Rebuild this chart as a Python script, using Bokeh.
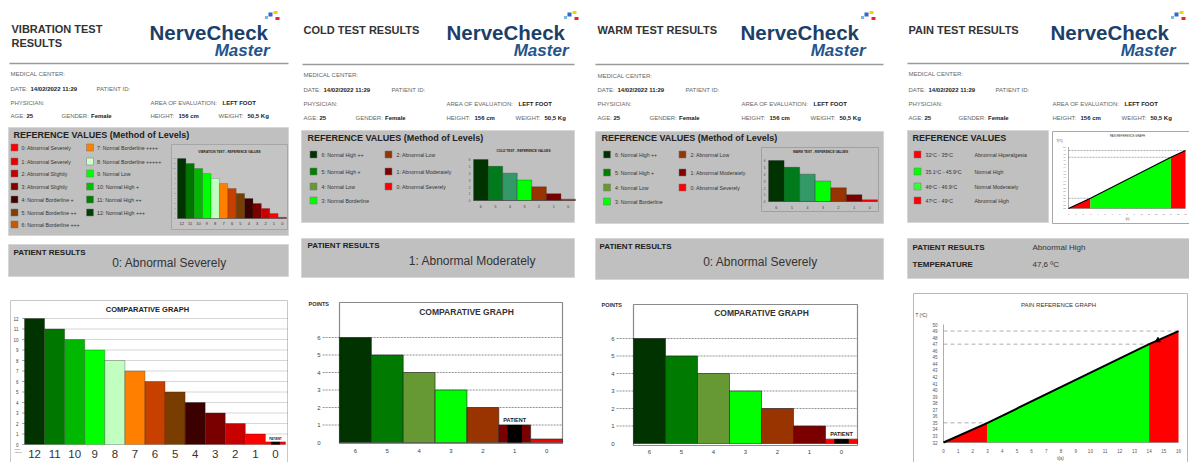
from bokeh.plotting import figure
from bokeh.models import Range1d, ColumnDataSource
from bokeh.core.properties import value
from bokeh.embed import file_html
from bokeh.resources import INLINE

# ---------------------------------------------------------------- data
panel_titles = [["VIBRATION TEST", "RESULTS"], ["COLD TEST RESULTS"], ["WARM TEST RESULTS"], ["PAIN TEST RESULTS"]]
logo_main = "NerveCheck"
logo_sub = "Master"

medical_center = ""
exam_date = "14/02/2022 11:29"
patient_id = ""
physician = ""
area = "LEFT FOOT"
age = "25"
gender = "Female"
height_txt = "156 cm"
weight_txt = "50,5 Kg"

# vibration
vib_levels = ["12", "11", "10", "9", "8", "7", "6", "5", "4", "3", "2", "1", "0"]
vib_points = [12, 11, 10, 9, 8, 7, 6, 5, 4, 3, 2, 1, 0.25]
vib_colors = ["#003300", "#007800", "#00b800", "#00ff00", "#c0ffc0", "#ff8000", "#c84000",
              "#7a3d00", "#3d0000", "#7a0000", "#c80000", "#ff0000", "#ff0000"]
vib_y_ticks = [0, 1, 2, 3, 4, 5, 6, 7, 8, 9, 10, 11, 12]
vib_legend_labels = ["0: Abnormal Severely", "1: Abnormal Severely", "2: Abnormal Slightly",
                     "3: Abnormal Slightly", "4: Normal Borderline +", "5: Normal Borderline ++",
                     "6: Normal Borderline +++", "7: Normal Borderline ++++", "8: Normal Borderline +++++",
                     "9: Normal Low", "10: Normal High +", "11: Normal High ++", "12: Normal High +++"]
vib_legend_colors = ["#ff0000", "#e60000", "#c00000", "#800000", "#400000", "#804000", "#cc5500",
                     "#ff8000", "#ccffcc", "#00ff00", "#00c000", "#008000", "#004000"]
vib_patient = "0"
vib_result = "0: Abnormal Severely"

# cold / warm
tw_levels = ["6", "5", "4", "3", "2", "1", "0"]
tw_y_ticks = [0, 1, 2, 3, 4, 5, 6]
cold_points = [6, 5, 4, 3, 2, 1, 0.2]
warm_points = [6, 5, 4, 3, 2, 1, 0.25]
tw_colors = ["#003300", "#007a00", "#669933", "#00ff00", "#993300", "#7a0000", "#ff0000"]
tw_ref_colors = ["#003300", "#007a1a", "#339966", "#00ff00", "#993300", "#7a0000", "#ff0000"]
tw_legend_labels = ["6: Normal High ++", "5: Normal High +", "4: Normal Low", "3: Normal Borderline",
                    "2: Abnormal Low", "1: Abnormal Moderately", "0: Abnormal Severely"]
tw_legend_colors = ["#003300", "#008000", "#669933", "#00ff00", "#993300", "#800000", "#ff0000"]
cold_patient = "1"
cold_result = "1: Abnormal Moderately"
warm_patient = "0"
warm_result = "0: Abnormal Severely"

# pain
pain_t = [0, 3, 14, 16]
pain_T = [32, 35, 47, 49]
pain_zone_colors = ["#ff0000", "#00ff00", "#ff0000"]
pain_y_ticks = [32, 33, 34, 35, 36, 37, 38, 39, 40, 41, 42, 43, 44, 45, 46, 47, 48, 49, 50]
pain_x_ticks = [0, 1, 2, 3, 4, 5, 6, 7, 8, 9, 10, 11, 12, 13, 14, 15, 16]
pain_patient_t = [14.6]
pain_patient_T = [47.6]
pain_legend_ranges = ["32ºC - 35ºC", "35.1ºC - 45.9ºC", "46ºC - 46.9ºC", "47ºC - 49ºC"]
pain_legend_labels = ["Abnormal Hiperalgesia", "Normal High", "Normal Moderately", "Abnormal High"]
pain_legend_colors = ["#ff0000", "#00ff00", "#33ff33", "#ff0000"]
pain_result = "Abnormal High"
pain_temperature = "47,6 ºC"

# ---------------------------------------------------------------- figure
FX0, FY0, W, H = 0, 0, 1189, 462
p = figure(width=W, height=H, x_range=Range1d(FX0, FX0 + W), y_range=Range1d(FY0 + H, FY0),
           output_backend="svg", toolbar_location=None, min_border=0,
           x_axis_type=None, y_axis_type=None,
           background_fill_color="white", border_fill_color="white")
p.outline_line_color = None

FONT = "Liberation Sans"
texts = {}


def T(x, y, s, size, color="#333333", style="normal", align="left", baseline="middle",
      r=None, xo=0, yo=0, font=FONT):
    key = (size, color, style, align, baseline, r, xo, yo, font)
    d = texts.setdefault(key, dict(x=[], y=[], t=[]))
    d["x"].append(x)
    d["y"].append(y)
    d["t"].append(s)


def box(l, r, t, b, fill, line=None, lw=1):
    p.quad(left=[l], right=[r], top=[t], bottom=[b], fill_color=fill,
           line_color=line, line_width=lw)


def chart_ranges(name, px_x0, px_x1, d_x0, d_x1, px_y0, px_y1, d_y0, d_y1):
    kx = (px_x1 - px_x0) / (d_x1 - d_x0)
    xs = d_x0 - (px_x0 - FX0) / kx
    ky = (px_y0 - px_y1) / (d_y1 - d_y0)
    ys = d_y0 - (FY0 + H - px_y0) / ky
    p.extra_x_ranges = {**p.extra_x_ranges, name: Range1d(xs, xs + W / kx)}
    p.extra_y_ranges = {**p.extra_y_ranges, name: Range1d(ys, ys + H / ky)}


def bars(name, levels, points, colors, patient=None, patient_size="5px",
         line_color="#222222", lw=0.4):
    xs = [i + 0.5 for i in range(len(levels))]
    p.vbar(x=xs, top=points, bottom=0, width=1, fill_color=colors, line_color=line_color,
           line_width=lw, x_range_name=name, y_range_name=name)
    if patient is not None:
        i = levels.index(patient)
        p.vbar(x=[xs[i]], top=[points[i]], bottom=0, width=0.45, fill_color="black",
               line_color=None, x_range_name=name, y_range_name=name)
        T(xs[i], points[i], "PATIENT", patient_size, "#222222", "bold", "center", "bottom", r=name, yo=-2)
    return xs


# ---------------------------------------------------------------- panel headers
panels = [
    dict(title=[(11, 28), (11, 42)], logo=(149, 269), rule=(9, 288, 63),
         info=dict(a=10, b=96, c=150, g=61, w=218), iy=[73, 88, 102, 115],
         ref_box=(8, 288, 127, 235), ref_title=(13, 134), ref_txt="REFERENCE VALUES (Method of Levels)",
         pbox=(8, 288, 244, 276), plabel=(13, 252)),
    dict(title=[(303, 29)], logo=(446, 568), rule=(302, 574, 64),
         info=dict(a=303, b=391, c=446, g=355, w=515), iy=[74, 89, 103, 117],
         ref_box=(301, 574, 130, 222), ref_title=(307, 137), ref_txt="REFERENCE VALUES (Method of Levels)",
         pbox=(301, 574, 238, 277), plabel=(307, 245)),
    dict(title=[(597, 29)], logo=(740, 865), rule=(595, 883, 64),
         info=dict(a=597, b=685, c=741, g=649, w=810), iy=[75, 89, 103, 117],
         ref_box=(595, 883, 131, 223), ref_title=(601, 137), ref_txt="REFERENCE VALUES (Method of Levels)",
         pbox=(595, 883, 238, 279), plabel=(599, 246)),
    dict(title=[(908, 29)], logo=(1050, 1175), rule=(907, 1189, 63),
         info=dict(a=908, b=995, c=1052, g=958, w=1121), iy=[73, 89, 103, 117],
         ref_box=(907, 1048, 130, 222), ref_title=(912, 137), ref_txt="REFERENCE VALUES",
         pbox=(907, 1189, 238, 278), plabel=(912, 247)),
]

GRAYBOX = "#c0c0c0"
for k, pn in enumerate(panels):
    for (x, y), s in zip(pn["title"], panel_titles[k]):
        T(x, y, s, "11px", "#333333", "bold")
    ll, lr = pn["logo"]
    T(ll, 32, logo_main, "20.5px", "#1c3f6a", "bold")
    T(lr, 50, logo_sub, "17px", "#24548a", "bold italic", "right")
    # small coloured marks of the logo
    p.rect(x=[lr - 3, lr + 1, lr + 6, lr + 8], y=[17, 14, 12, 18], width=[3, 4, 4, 4],
           height=[3, 4, 3, 3], fill_color=["#7fb3e6", "#3366cc", "#ffcc00", "#ee2222"], line_color=None)
    x0, x1, ry = pn["rule"]
    p.segment(x0=[x0], x1=[x1], y0=[ry], y1=[ry], line_color="#9a9a9a", line_width=1.6)
    inf = pn["info"]
    iy = pn["iy"]
    LS = "6px"
    T(inf["a"], iy[0], "MEDICAL CENTER:", LS, "#666666")
    T(inf["a"] + 59, iy[0], medical_center, LS, "#222222", "bold")
    T(inf["a"], iy[1], "DATE:", LS, "#666666")
    T(inf["a"] + 20, iy[1], exam_date, LS, "#222222", "bold")
    T(inf["b"], iy[1], "PATIENT ID:", LS, "#666666")
    T(inf["b"] + 37, iy[1], patient_id, LS, "#222222", "bold")
    T(inf["a"], iy[2], "PHYSICIAN:", LS, "#666666")
    T(inf["a"] + 37, iy[2], physician, LS, "#222222", "bold")
    T(inf["c"], iy[2], "AREA OF EVALUATION:", LS, "#666666")
    T(inf["c"] + 72, iy[2], area, LS, "#222222", "bold")
    T(inf["a"], iy[3], "AGE:", LS, "#666666")
    T(inf["a"] + 16, iy[3], age, LS, "#222222", "bold")
    T(inf["g"], iy[3], "GENDER:", LS, "#666666")
    T(inf["g"] + 29.5, iy[3], gender, LS, "#222222", "bold")
    T(inf["c"], iy[3], "HEIGHT:", LS, "#666666")
    T(inf["c"] + 28, iy[3], height_txt, LS, "#222222", "bold")
    T(inf["w"], iy[3], "WEIGHT:", LS, "#666666")
    T(inf["w"] + 29, iy[3], weight_txt, LS, "#222222", "bold")
    l, r, t, b = pn["ref_box"]
    box(l, r, t, b, GRAYBOX, "#d6d6d6")
    T(pn["ref_title"][0], pn["ref_title"][1], pn["ref_txt"], "9px", "#222222", "bold")
    l, r, t, b = pn["pbox"]
    box(l, r, t, b, GRAYBOX, "#d6d6d6")
    T(pn["plabel"][0], pn["plabel"][1], "PATIENT RESULTS", "8px", "#222222", "bold")


def legend(sq_x, rows, labels, colors, text_dx=7, size="5.2px"):
    p.rect(x=[sq_x] * len(rows), y=rows, width=7, height=7, fill_color=colors,
           line_color="#777777", line_width=0.5)
    for y, s in zip(rows, labels):
        T(sq_x + text_dx, y, s, size, "#333333")


# ---------------------------------------------------------------- vibration panel
legend(14, [147, 161, 173, 186, 199, 212, 224], vib_legend_labels[:7], vib_legend_colors[:7])
legend(89.5, [147, 161, 173, 186, 199, 212], vib_legend_labels[7:], vib_legend_colors[7:])

# mini reference chart
box(171, 287, 144, 229, "#c4c4c4", "#a6a6a6")
T(229, 151, "VIBRATION TEST - REFERENCE VALUES", "3.2px", "#222222", "bold", "center")
chart_ranges("vmini", 177, 286, 0, 13, 218, 158, 0, 12)
vx = bars("vmini", vib_levels, vib_points, vib_colors, lw=0.2)
p.segment(x0=[0], x1=[13], y0=[0], y1=[0], line_color="#555555", line_width=0.6,
          x_range_name="vmini", y_range_name="vmini")
for x, s in zip(vx, vib_levels):
    T(x, 0, s, "4px", "#333333", "normal", "center", "top", r="vmini", yo=3)
for v in vib_y_ticks:
    T(0, v, str(v), "2px", "#666666", "normal", "right", "middle", r="vmini", xo=-2)

T(169, 262, vib_result, "12px", "#333333", "normal", "center")

# comparative graph
box(10, 287, 300, 480, "white", "#c8c8c8")
T(148, 309, "COMPARATIVE  GRAPH", "7.5px", "#222222", "bold", "center")
chart_ranges("vbig", 24, 285, 0, 13, 444, 318, 0, 12)
p.segment(x0=[0] * 12, x1=[13.1] * 12, y0=vib_y_ticks[1:], y1=vib_y_ticks[1:],
          line_color="#999999", line_width=0.8, line_dash="1 1",
          x_range_name="vbig", y_range_name="vbig")
p.segment(x0=[-0.12] * 13, x1=[0] * 13, y0=vib_y_ticks, y1=vib_y_ticks, line_color="#666666",
          line_width=0.6, x_range_name="vbig", y_range_name="vbig")
vx = bars("vbig", vib_levels, vib_points, vib_colors, vib_patient, "3px", lw=0.3)
for x, s in zip(vx, vib_levels):
    T(x, 0, s, "11.5px", "#333333", "normal", "center", "middle", r="vbig", yo=9)
for v in vib_y_ticks:
    T(0, v, str(v), "4.5px", "#444444", "normal", "right", "middle", r="vbig", xo=-6)
T(14, 448.5, "Point", "2.4px", "#555555", "normal", "left")
T(14, 452, "Values", "2.4px", "#555555", "normal", "left")


# ---------------------------------------------------------------- cold / warm panels
def tw_panel(tag, sq1, sq2, rows, mini, big, points, patient, result, result_xy, graph_box, title_xy,
             points_xy, grid_left):
    legend(sq1, rows, tw_legend_labels[:4], tw_legend_colors[:4], text_dx=8)
    legend(sq2, rows[:3], tw_legend_labels[4:], tw_legend_colors[4:], text_dx=8)
    # mini chart
    if mini.get("box"):
        l, r, t, b = mini["box"]
        box(l, r, t, b, None, "#a0a0a0")
    T(mini["title"][0], mini["title"][1], tag + " TEST - REFERENCE VALUES", "3.2px", "#222222",
      "bold", "center")
    name = tag.lower() + "mini"
    chart_ranges(name, *mini["rng"], 0, 7, *mini["yrng"], 0, 6)
    mx = bars(name, tw_levels, points, tw_ref_colors, lw=0.3)
    p.segment(x0=[0], x1=[7], y0=[0], y1=[0], line_color="#444444", line_width=0.6,
              x_range_name=name, y_range_name=name)
    p.segment(x0=[0], x1=[0], y0=[0], y1=[6], line_color="#777777", line_width=0.4,
              x_range_name=name, y_range_name=name)
    for x, s in zip(mx, tw_levels):
        T(x, 0, s, "3.5px", "#333333", "normal", "center", "top", r=name, yo=4)
    for v in tw_y_ticks:
        T(0, v, str(v), "3px", "#444444", "normal", "right", "middle", r=name, xo=-3)
    T(result_xy[0], result_xy[1], result, "12px", "#333333", "normal", "center")
    # comparative graph
    l, r, t, b = graph_box
    box(l, r, t, b, "white", "#8a8a8a", 1.2)
    T(points_xy[0], points_xy[1], "POINTS", "5.5px", "#333333", "bold")
    T(title_xy[0], title_xy[1], "COMPARATIVE GRAPH", "8.5px", "#333333", "bold", "center")
    name = tag.lower() + "big"
    chart_ranges(name, *big["rng"], 0, 7, *big["yrng"], 0, 6)
    p.segment(x0=[grid_left] * 6, x1=[7] * 6, y0=tw_y_ticks[1:], y1=tw_y_ticks[1:],
              line_color="#777777", line_width=0.8, line_dash="2 1",
              x_range_name=name, y_range_name=name)
    bx = bars(name, tw_levels, points, tw_colors, patient, "5.5px", lw=0.6)
    for x, s in zip(bx, tw_levels):
        T(x, 0, s, "6px", "#444444", "normal", "center", "middle", r=name, yo=8)
    for v in tw_y_ticks:
        T(0, v, str(v), "6px", "#444444", "normal", "right", "middle", r=name, xo=-19)


tw_panel("COLD", 313, 388, [154, 171, 186, 200],
         dict(title=(523, 150), rng=(473, 575), yrng=(200, 159)),
         dict(rng=(339, 562), yrng=(442, 337)),
         cold_points, cold_patient, cold_result, (472, 260), (339, 562, 302, 443), (466, 311),
         (308, 303), -0.53)
tw_panel("WARM", 606.5, 682, [154, 172, 187, 201],
         dict(box=(761, 878, 147, 211), title=(820, 151), rng=(768, 877), yrng=(201, 160)),
         dict(rng=(633, 857), yrng=(443, 338)),
         warm_points, warm_patient, warm_result, (760, 261), (633, 857, 304, 445), (761, 312),
         (601, 304), -0.53)

# ---------------------------------------------------------------- pain panel
p.rect(x=[917] * 4, y=[154, 171, 186, 200], width=7, height=7, fill_color=pain_legend_colors,
       line_color="#777777", line_width=0.5)
for y, s1, s2 in zip([154, 171, 186, 200], pain_legend_ranges, pain_legend_labels):
    T(925, y, s1, "5.2px", "#333333")
    T(974, y, s2, "5.2px", "#333333")

T(912, 264, "TEMPERATURE", "8px", "#222222", "bold")
T(1032, 247, pain_result, "8px", "#333333")
T(1032, 264, pain_temperature, "8px", "#333333")


def pain_graph(name, rng, yrng, y_top, font_small, lw, xo, yo, dash, marker_size):
    chart_ranges(name, *rng, 0, 16, *yrng, 32, y_top)
    kw = dict(x_range_name=name, y_range_name=name)
    for i, c in enumerate(pain_zone_colors):
        p.varea(x=pain_t[i:i + 2], y1=[pain_T[0]] * 2, y2=pain_T[i:i + 2], fill_color=c, **kw)
    n = len(pain_t) - 1
    p.segment(x0=[0] * n, x1=pain_t[1:], y0=pain_T[1:], y1=pain_T[1:], line_color="#999999",
              line_width=0.8, line_dash=dash, **kw)
    p.segment(x0=[0, 0], x1=[0, pain_x_ticks[-1]], y0=[pain_T[0], pain_T[0]],
              y1=[pain_y_ticks[-1], pain_T[0]], line_color="#777777", line_width=0.6, **kw)
    p.line(x=pain_t, y=pain_T, line_color="black", line_width=lw, **kw)
    if marker_size:
        p.scatter(x=pain_patient_t, y=pain_patient_T, size=marker_size, marker="triangle",
                  fill_color="black", line_color="black", **kw)
    for v in pain_y_ticks:
        T(0, v, str(v), font_small, "#555555", "normal", "right", "middle", r=name, xo=xo)
    for v in pain_x_ticks:
        T(v, pain_T[0], str(v), font_small, "#555555", "normal", "center", "middle", r=name, yo=yo)


# mini pain reference graph
box(1052, 1200, 131, 223, "white", "#a8a8a8")
T(1127, 135.5, "PAIN REFERENCE GRAPH", "2.8px", "#333333", "normal", "center")
T(1056, 141, "T(ºC)", "2.6px", "#333333")
pain_graph("pmini", (1068, 1185), (208, 150), pain_T[-1], "2px", 1.2, -3, 6, "2 1", 0)
T(1127, 218.5, "t(s)", "2.6px", "#333333", "normal", "center")

# big pain reference graph
box(913, 1187, 293, 480, "white", "#b8b8b8")
T(1058, 304, "PAIN REFERENCE GRAPH", "6px", "#333333", "normal", "center")
T(915, 315, "T (ºC)", "4.5px", "#333333")
pain_graph("pbig", (943, 1178), (442, 324), pain_y_ticks[-1], "4.5px", 2, -6, 8, "4 3", 5)
T(1060, 458, "t(s)", "4.5px", "#333333", "normal", "center")

# ---------------------------------------------------------------- texts
for key, d in texts.items():
    size, color, style, align, baseline, r, xo, yo, font = key
    kw = {}
    if r:
        kw = dict(x_range_name=r, y_range_name=r)
    p.text(x="x", y="y", text="t", source=ColumnDataSource(d), text_font_size=value(size),
           text_color=color, text_font_style=style, text_align=align, text_baseline=baseline,
           text_font=value(font), x_offset=xo, y_offset=yo, **kw)

open("out.html", "w").write(file_html(p, INLINE))
